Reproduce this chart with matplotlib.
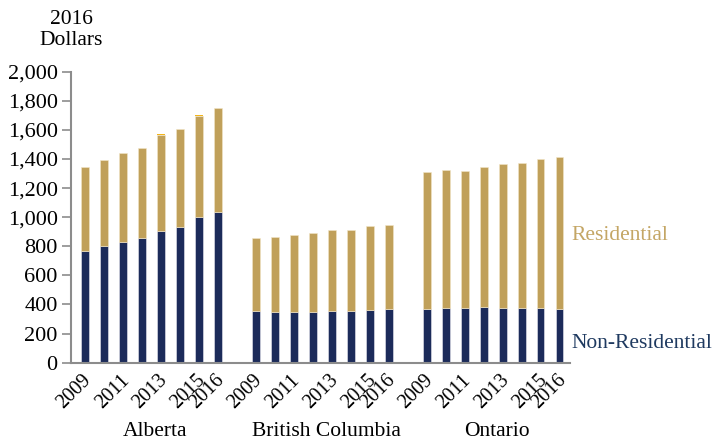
import numpy as np
import matplotlib.pyplot as plt
import matplotlib.transforms as mtransforms
from matplotlib.ticker import FuncFormatter

plt.rcParams['font.family'] = ['Liberation Serif', 'DejaVu Serif']

# Data (2016 dollars)
provinces = ["Alberta", "British Columbia", "Ontario"]
years = [2009, 2010, 2011, 2012, 2013, 2014, 2015, 2016]
shown_years = ["2009", "2011", "2013", "2015", "2016"]

non_res = {
    "Alberta": [770, 805, 830, 855, 903, 935, 1000, 1034],
    "British Columbia": [353, 350, 348, 348, 357, 357, 364, 367],
    "Ontario": [371, 378, 378, 383, 378, 378, 378, 371],
}
total = {
    "Alberta": [1343, 1393, 1439, 1473, 1562, 1604, 1695, 1748],
    "British Columbia": [857, 863, 875, 891, 910, 914, 937, 944],
    "Ontario": [1308, 1322, 1318, 1343, 1363, 1370, 1398, 1414],
}
other = {
    "Alberta": [0, 0, 0, 0, 10, 0, 5, 5],
    "British Columbia": [0, 0, 0, 0, 0, 0, 0, 0],
    "Ontario": [0, 0, 0, 0, 0, 0, 0, 0],
}

navy = "#1c2b5a"
tan = "#c0a05a"
orange = "#f2b51c"

fig = plt.figure(figsize=(7.16, 4.47), dpi=100)
ax = fig.add_axes([0.099, 0.1886, 0.697, 0.651])

n = len(years)
tick_pos = []
tick_lab = []
for g, p in enumerate(provinces):
    x = np.arange(n) + g * (n + 1)
    nr = np.array(non_res[p])
    res = np.array(total[p]) - nr
    ax.bar(x, nr, width=0.42, color=navy, edgecolor="#e8e8f0", linewidth=0.4)
    ax.bar(x, res, bottom=nr, width=0.42, color=tan, edgecolor="#f2e6c8", linewidth=0.4)
    ax.bar(x, other[p], bottom=nr + res, width=0.42, color=orange, linewidth=0)
    for i, y in enumerate(years):
        if str(y) in shown_years:
            tick_pos.append(x[i])
            tick_lab.append(str(y))
    ax.text(x.mean() + 0.2, -0.238, p, transform=ax.get_xaxis_transform(),
            ha="center", va="center", fontsize=15.5)

ax.set_xlim(-0.74, 25.55)
ax.set_ylim(0, 2000)
ax.set_yticks(np.arange(0, 2001, 200))
ax.yaxis.set_major_formatter(FuncFormatter(lambda v, _: f"{int(v):,}"))
ax.set_xticks(tick_pos)
ax.set_xticklabels(tick_lab, rotation=45, ha="right", rotation_mode="anchor")
ax.tick_params(axis="x", length=0, labelsize=14.5, pad=6)
ax.tick_params(axis="y", length=6.5, width=1.2, color="#8c8c8c", labelsize=16, pad=3)

shift = mtransforms.ScaledTranslation(-3 / 100, 0, fig.dpi_scale_trans)
for lab in ax.get_xticklabels():
    lab.set_transform(lab.get_transform() + shift)

for s in ["top", "right"]:
    ax.spines[s].set_visible(False)
ax.spines["left"].set_color("#8c8c8c")
ax.spines["bottom"].set_color("#8c8c8c")
ax.spines["left"].set_linewidth(1.5)
ax.spines["bottom"].set_linewidth(1.5)

fig.text(71 / 716, 1 - 30 / 447, "2016\nDollars", ha="center", va="center",
         fontsize=15.5, linespacing=1.15)
fig.text(571 / 716, 1 - 236 / 447, "Residential", color="#c4a665",
         ha="left", va="center", fontsize=15.5)
fig.text(571 / 716, 1 - 343 / 447, "Non-Residential", color="#1f3a60",
         ha="left", va="center", fontsize=15.5)

fig.savefig("out.png", dpi=100)
